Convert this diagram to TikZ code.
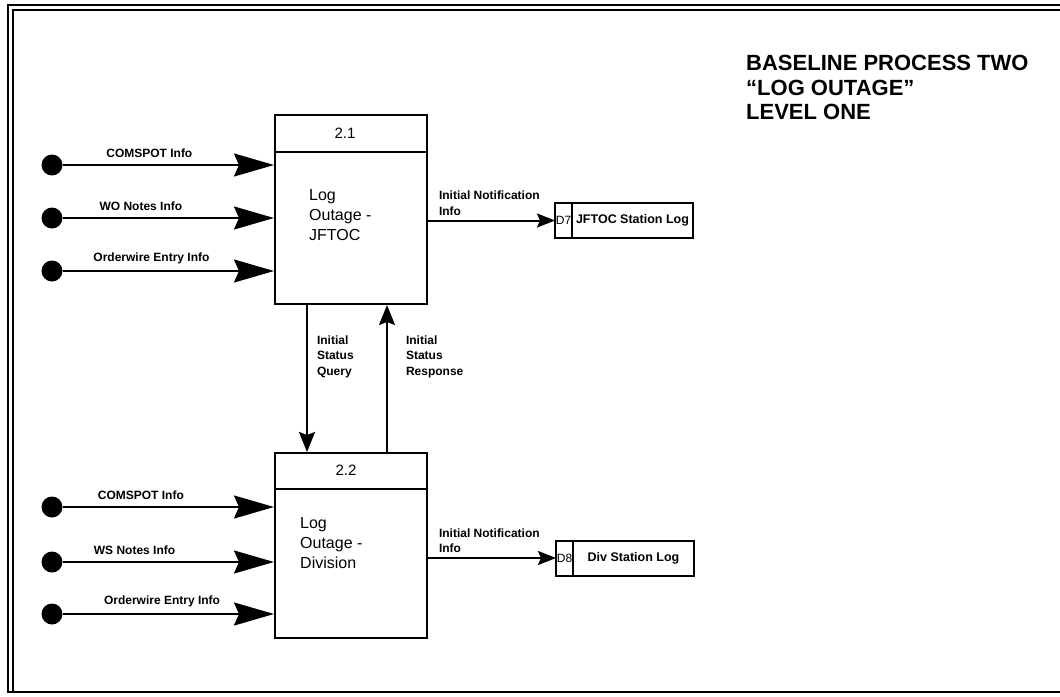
\documentclass[tikz,border=0pt]{standalone}
\usepackage{fontspec}
\setmainfont{Liberation Sans}
\usepackage{tikz}
\usetikzlibrary{arrows.meta,positioning}

\begin{document}
\begin{tikzpicture}[x=1pt,y=-1pt,
    procbox/.style={draw,line width=2pt,minimum width=152pt,inner sep=0pt},
    numtxt/.style={font=\fontsize{15}{17}\selectfont},
    boxtxt/.style={font=\fontsize{16}{20}\selectfont,align=left,anchor=west,inner sep=0pt},
    dot/.style={circle,fill=black,minimum size=21pt,inner sep=0pt},
    flowin/.style={line width=2pt,-{Stealth[length=40pt,width=23pt,inset=5pt]}},
    flowout/.style={line width=2pt,-{Stealth[length=18pt,width=14pt,inset=3pt]}},
    flowv/.style={line width=2pt,-{Stealth[length=20pt,width=16pt,inset=3pt]}},
    lbl/.style={font=\bfseries\fontsize{12}{15.5}\selectfont,inner sep=1pt},
    storeid/.style={draw,line width=2pt,minimum width=17pt,minimum height=35pt,
      inner sep=0pt,outer sep=0pt,font=\fontsize{12}{14}\selectfont},
    storebox/.style={draw,line width=2pt,minimum width=121pt,minimum height=35pt,
      inner sep=0pt,outer sep=0pt,font=\bfseries\fontsize{12.5}{14}\selectfont}]
  \useasboundingbox (0,0) rectangle (1060,696);

  % double frame
  \draw[line width=2.5pt] (8,5) rectangle (1080,692);
  \draw[line width=2pt] (13,692) -- (13,10) -- (1080,10);

  % title
  \node[anchor=north west,align=left,inner sep=0pt,
    font=\bfseries\fontsize{22}{24.5}\selectfont] (ttl) at (746,55)
    {BASELINE PROCESS TWO\\“LOG OUTAGE”\\LEVEL ONE};

  % process 2.1
  \node[procbox,minimum height=189pt] (p21) at (351,209.5) {};
  \draw[line width=2pt] ([yshift=-38pt]p21.north west) -- ([yshift=-38pt]p21.north east);
  \node[numtxt] (n21) at ([xshift=-6pt,yshift=-19pt]p21.north) {2.1};
  \node[boxtxt] (t21) at (309,215) {Log\\Outage -\\JFTOC};

  % process 2.2
  \node[procbox,minimum height=185pt] (p22) at (351,545.5) {};
  \draw[line width=2pt] ([yshift=-37pt]p22.north west) -- ([yshift=-37pt]p22.north east);
  \node[numtxt] (n22) at ([xshift=-5pt,yshift=-18.5pt]p22.north) {2.2};
  \node[boxtxt] (t22) at (300,543) {Log\\Outage -\\Division};

  % inputs to 2.1
  \node[dot] (a1) at (52,165) {};
  \node[dot] (a2) at (52,218) {};
  \node[dot] (a3) at (52,271) {};
  \draw[flowin] (a1) -- (a1 -| p21.west) node[lbl,pos=.41,above=5pt] {COMSPOT Info};
  \draw[flowin] (a2) -- (a2 -| p21.west) node[lbl,pos=.37,above=5pt] {WO Notes Info};
  \draw[flowin] (a3) -- (a3 -| p21.west) node[lbl,pos=.42,above=5pt] {Orderwire Entry Info};

  % inputs to 2.2
  \node[dot] (b1) at (52,507) {};
  \node[dot] (b2) at (52,562) {};
  \node[dot] (b3) at (52,614) {};
  \draw[flowin] (b1) -- (b1 -| p22.west) node[lbl,pos=.37,above=5pt] {COMSPOT Info};
  \draw[flowin] (b2) -- (b2 -| p22.west) node[lbl,pos=.34,above=5pt] {WS Notes Info};
  \draw[flowin] (b3) -- (b3 -| p22.west) node[lbl,pos=.47,above=5pt] {Orderwire Entry Info};

  % data stores
  \node[storeid] (d7id) at (563.5,220.5) {D7};
  \node[storebox,right=0pt of d7id] (d7) {JFTOC Station Log};
  \node[storeid] (d8id) at (564.5,558) {D8};
  \node[storebox,right=0pt of d8id] (d8) {Div Station Log};

  % outputs
  \draw[flowout] (p21.east |- d7id.west) -- (d7id.west)
    node[lbl,pos=0,anchor=south west,align=left,xshift=9pt,yshift=3pt]
    {Initial Notification\\Info};
  \draw[flowout] (p22.east |- d8id.west) -- (d8id.west)
    node[lbl,pos=0,anchor=south west,align=left,xshift=9pt,yshift=3pt]
    {Initial Notification\\Info};

  % status query / response
  \draw[flowv] ([xshift=-44pt]p21.south) -- ([xshift=-44pt]p22.north)
    node[lbl,pos=.35,anchor=west,align=left,xshift=8pt] {Initial\\Status\\Query};
  \draw[flowv] ([xshift=36pt]p22.north) -- ([xshift=36pt]p21.south)
    node[lbl,pos=.65,anchor=west,align=left,xshift=17pt] {Initial\\Status\\Response};
\end{tikzpicture}
\end{document}
